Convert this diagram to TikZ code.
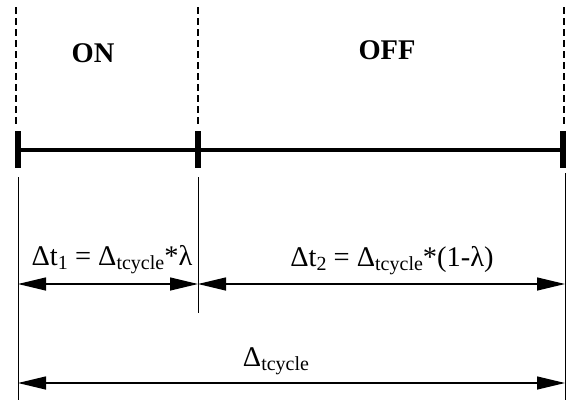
\documentclass[tikz,border=0pt]{standalone}
\usepackage{fontspec}
\setmainfont{Liberation Serif}
\usetikzlibrary{arrows.meta}
\newcommand{\sbs}[1]{\raisebox{-4pt}{\fontsize{20}{20}\selectfont #1}}
\begin{document}
\begin{tikzpicture}[x=1pt,y=-1pt,
  txt/.style={inner sep=0pt,anchor=base,font=\fontsize{28.5}{30}\selectfont},
  ttl/.style={inner sep=0pt,anchor=base,font=\fontsize{28.5}{30}\selectfont\bfseries},
  dashline/.style={line width=1.8pt,dash pattern=on 7pt off 4pt},
  tickmark/.style={line width=6pt},
  mainline/.style={line width=3.3pt},
  extline/.style={line width=1pt},
  dimarrow/.style={line width=1.3pt,{Triangle[length=28pt,width=13pt]}-{Triangle[length=28pt,width=13pt]}}]
\useasboundingbox (0,0) rectangle (566,400);
% dashed guides
\coordinate (d1t) at (16,7);   \coordinate (d1b) at (16,124);
\coordinate (d2t) at (198,7);  \coordinate (d2b) at (198,124);
\coordinate (d3t) at (564,7);  \coordinate (d3b) at (564,124);
\draw[dashline] (d1t) -- (d1b);
\draw[dashline] (d2t) -- (d2b);
\draw[dashline] (d3t) -- (d3b);
% titles
\node[ttl] (on) at (93,62) {ON};
\node[ttl] (off) at (387,59) {OFF};
% timeline
\coordinate (a) at (18,150); \coordinate (b) at (198,150); \coordinate (c) at (563,150);
\draw[mainline] (a) -- (c);
\draw[tickmark] (18,131) -- (18,168);
\draw[tickmark] (198,131) -- (198,168);
\draw[tickmark] (563,131) -- (563,168);
% extension lines
\coordinate (e1t) at (18,177);  \coordinate (e1b) at (18,400);
\coordinate (e2t) at (198,177); \coordinate (e2b) at (198,313);
\coordinate (e3t) at (565,173); \coordinate (e3b) at (565,400);
\draw[extline] (e1t) -- (e1b);
\draw[extline] (e2t) -- (e2b);
\draw[extline] (e3t) -- (e3b);
% dimension arrows
\coordinate (p1) at (18,284);  \coordinate (p2) at (198,284); \coordinate (p3) at (565,284);
\coordinate (q1) at (18,383);  \coordinate (q2) at (565,383);
\draw[dimarrow] (p1) -- (p2);
\draw[dimarrow] (p2) -- (p3);
\draw[dimarrow] (q1) -- (q2);
% labels
\node[txt] (l1) at (112,265) {Δt\sbs{1} = Δ\sbs{tcycle}*λ};
\node[txt] (l2) at (392,266) {Δt\sbs{2} = Δ\sbs{tcycle}*(1-λ)};
\node[txt] (l3) at (276,366) {Δ\sbs{tcycle}};
\end{tikzpicture}
\end{document}
